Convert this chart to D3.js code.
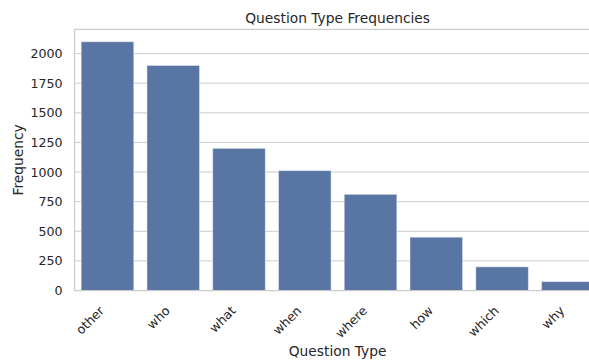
<!DOCTYPE html>
<html>
<head>
<meta charset="utf-8">
<script src="https://cdn.jsdelivr.net/npm/d3@7"></script>
<style>
  html, body { margin: 0; padding: 0; background: #fff; }
  svg { display: block; font-family: "DejaVu Sans", sans-serif; }
</style>
</head>
<body>
<svg id="chart" width="589" height="360"></svg>
<script>
const categories = ["other", "who", "what", "when", "where", "how", "which", "why"];
const frequencies = [2100, 1900, 1200, 1012, 812, 450, 200, 75];
const yTicks = [0, 250, 500, 750, 1000, 1250, 1500, 1750, 2000];
const titleText = "Question Type Frequencies";
const xLabel = "Question Type";
const yLabel = "Frequency";

const W = 589, H = 360;
const m = { left: 74.6, right: 600.7, top: 29.3, bottom: 290.5 };
const svg = d3.select("#chart");

const x = d3.scaleBand().domain(categories).range([m.left, m.right]).paddingInner(0.2).paddingOuter(0.1);
const y = d3.scaleLinear().domain([0, d3.max(frequencies) * 1.05]).range([m.bottom, m.top]);

const grid = "#cccccc", txt = "#262626";

// gridlines
svg.append("g").selectAll("line").data(yTicks).join("line")
  .attr("x1", m.left).attr("x2", m.right)
  .attr("y1", d => y(d)).attr("y2", d => y(d))
  .attr("stroke", grid).attr("stroke-width", 1);

// bars
svg.append("g").selectAll("rect").data(categories).join("rect")
  .attr("x", d => x(d))
  .attr("width", x.bandwidth())
  .attr("y", (d, i) => y(frequencies[i]))
  .attr("height", (d, i) => y(0) - y(frequencies[i]))
  .attr("fill", "#5875a4")
  .attr("stroke", "#ffffff").attr("stroke-opacity", 0.45).attr("stroke-width", 1);

// spines
svg.append("line").attr("x1", m.left).attr("x2", m.left).attr("y1", m.top).attr("y2", m.bottom)
  .attr("stroke", grid).attr("stroke-width", 1.25);
svg.append("line").attr("x1", m.left).attr("x2", m.right).attr("y1", m.top).attr("y2", m.top)
  .attr("stroke", grid).attr("stroke-width", 1.25);
svg.append("line").attr("x1", m.left).attr("x2", m.right).attr("y1", m.bottom).attr("y2", m.bottom)
  .attr("stroke", grid).attr("stroke-width", 1.25);

// y axis via d3
const yAxis = d3.axisLeft(y).tickValues(yTicks).tickSize(0).tickPadding(12).tickFormat(d3.format("d"));
const gy = svg.append("g").attr("transform", `translate(${m.left},0)`).call(yAxis);
gy.select(".domain").remove();
gy.selectAll("text").attr("fill", txt).style("font-size", "12.6px").style("font-family", "DejaVu Sans");

// x axis via d3
const xAxis = d3.axisBottom(x).tickSize(0).tickPadding(0);
const gx = svg.append("g").attr("transform", `translate(0,${m.bottom})`).call(xAxis);
gx.select(".domain").remove();
gx.selectAll("text")
  .attr("fill", txt).style("font-size", "12.6px").style("font-family", "DejaVu Sans")
  .attr("text-anchor", "end")
  .attr("dy", null).attr("y", null)
  .attr("transform", "translate(-2.5,21) rotate(-45)");

// title & labels
svg.append("text").attr("x", (m.left + m.right) / 2).attr("y", 22.5)
  .attr("text-anchor", "middle").attr("fill", txt).style("font-size", "13.8px").text(titleText);
svg.append("text").attr("x", (m.left + m.right) / 2).attr("y", 356)
  .attr("text-anchor", "middle").attr("fill", txt).style("font-size", "13.8px").text(xLabel);
svg.append("text").attr("transform", `translate(23,${(m.top + m.bottom) / 2}) rotate(-90)`)
  .attr("text-anchor", "middle").attr("fill", txt).style("font-size", "13.8px").text(yLabel);
</script>
</body>
</html>
